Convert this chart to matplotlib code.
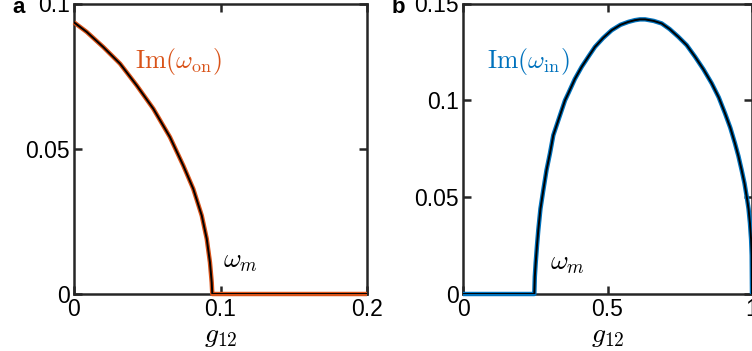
import numpy as np
import matplotlib.pyplot as plt

plt.rcParams['font.family'] = ['Liberation Sans', 'DejaVu Sans']
plt.rcParams['mathtext.fontset'] = 'cm'

# panel a: Im(omega_on) vs g12
g_on = [0.0, 0.0087, 0.020, 0.0314, 0.0428, 0.0541, 0.0655, 0.0746, 0.0814,
        0.0872, 0.0906, 0.0928, 0.0940, 0.0944, 0.12, 0.16, 0.2]
im_on = [0.0935, 0.0902, 0.0850, 0.0793, 0.0718, 0.0638, 0.0540, 0.0442, 0.0362,
         0.0270, 0.0190, 0.0109, 0.0040, 0.0, 0.0, 0.0, 0.0]

# panel b: Im(omega_in) vs g12
g_in = [0.0, 0.1, 0.2, 0.2467, 0.2485, 0.2515, 0.2560, 0.2606, 0.268, 0.278, 0.289,
        0.301, 0.3125, 0.330, 0.353, 0.3644, 0.3870, 0.4107, 0.4350, 0.4567, 0.4850,
        0.5145, 0.545, 0.572, 0.5950, 0.6125, 0.63, 0.66, 0.6875, 0.715, 0.745, 0.774,
        0.803, 0.832, 0.8605, 0.885, 0.9066, 0.925, 0.941, 0.953, 0.964, 0.974, 0.9817,
        0.988, 0.993, 0.997, 0.999, 1.0]
im_in = [0.0, 0.0, 0.0, 0.0, 0.0090, 0.0160, 0.0250, 0.0331, 0.0440, 0.0538, 0.0640,
         0.0727, 0.0820, 0.0898, 0.1000, 0.1036, 0.1110, 0.1173, 0.1228, 0.1276, 0.1322,
         0.1362, 0.1390, 0.1405, 0.1414, 0.1418, 0.1418, 0.1410, 0.1397, 0.1368, 0.1328, 0.1285,
         0.1225, 0.1160, 0.1088, 0.1015, 0.0933, 0.0858, 0.0778, 0.0712, 0.0641, 0.0572, 0.0503,
         0.0440, 0.0366, 0.0280, 0.0200, 0.0]

orange = '#D95319'
blue = '#0072BD'
spine_col = '#262626'

fig = plt.figure(figsize=(7.52, 3.51), dpi=100)
ax1 = fig.add_axes([74/752, 1 - 294/351, (367 - 74)/752, (294 - 3.5)/351])
ax2 = fig.add_axes([463/752, 1 - 294/351, (752 - 463)/752, (294 - 3.5)/351])


def style(ax):
    for s in ax.spines.values():
        s.set_color(spine_col)
        s.set_linewidth(1.8)
        s.set_zorder(1)
    ax.tick_params(direction='in', length=6, width=1.8, color=spine_col,
                   labelsize=16.5, top=True, right=True, pad=3)
    ax.set_xlabel('$g_{12}$', fontsize=20, labelpad=1)


ax1.plot(g_on, im_on, color=orange, lw=3.2, solid_capstyle='butt', zorder=3, clip_on=False)
ax1.plot(g_on, im_on, color='black', lw=1.4, zorder=4)
ax1.set_xlim(0, 0.2)
ax1.set_ylim(0, 0.1)
ax1.set_xticks([0, 0.1, 0.2])
ax1.set_xticklabels(['0', '0.1', '0.2'])
ax1.set_yticks([0, 0.05, 0.1])
ax1.set_yticklabels(['0', '0.05', '0.1'])
style(ax1)
ax1.text(0.0416, 0.080, r'$\mathrm{Im}(\omega_{\mathrm{on}})$', color=orange,
         fontsize=18.5, va='center', ha='left')
ax1.text(0.1017, 0.0115, r'$\omega_m$', color='black', fontsize=19.5, va='center', ha='left')

ax2.plot(g_in, im_in, color=blue, lw=3.2, solid_capstyle='butt', zorder=3, clip_on=False)
ax2.plot(g_in, im_in, color='black', lw=1.4, zorder=4)
ax2.set_xlim(0, 1)
ax2.set_ylim(0, 0.15)
ax2.set_xticks([0, 0.5, 1])
ax2.set_xticklabels(['0', '0.5', '1'])
ax2.set_yticks([0, 0.05, 0.1, 0.15])
ax2.set_yticklabels(['0', '0.05', '0.1', '0.15'])
style(ax2)
ax2.text(0.083, 0.120, r'$\mathrm{Im}(\omega_{\mathrm{in}})$', color=blue,
         fontsize=18.5, va='center', ha='left')
ax2.text(0.30, 0.016, r'$\omega_m$', color='black', fontsize=19.5, va='center', ha='left')

fig.text(12/752, 1 - 13/351, 'a', fontsize=16, fontweight='bold', va='baseline')
fig.text(392/752, 1 - 13/351, 'b', fontsize=16, fontweight='bold', va='baseline')

fig.savefig('out.png', dpi=100)
